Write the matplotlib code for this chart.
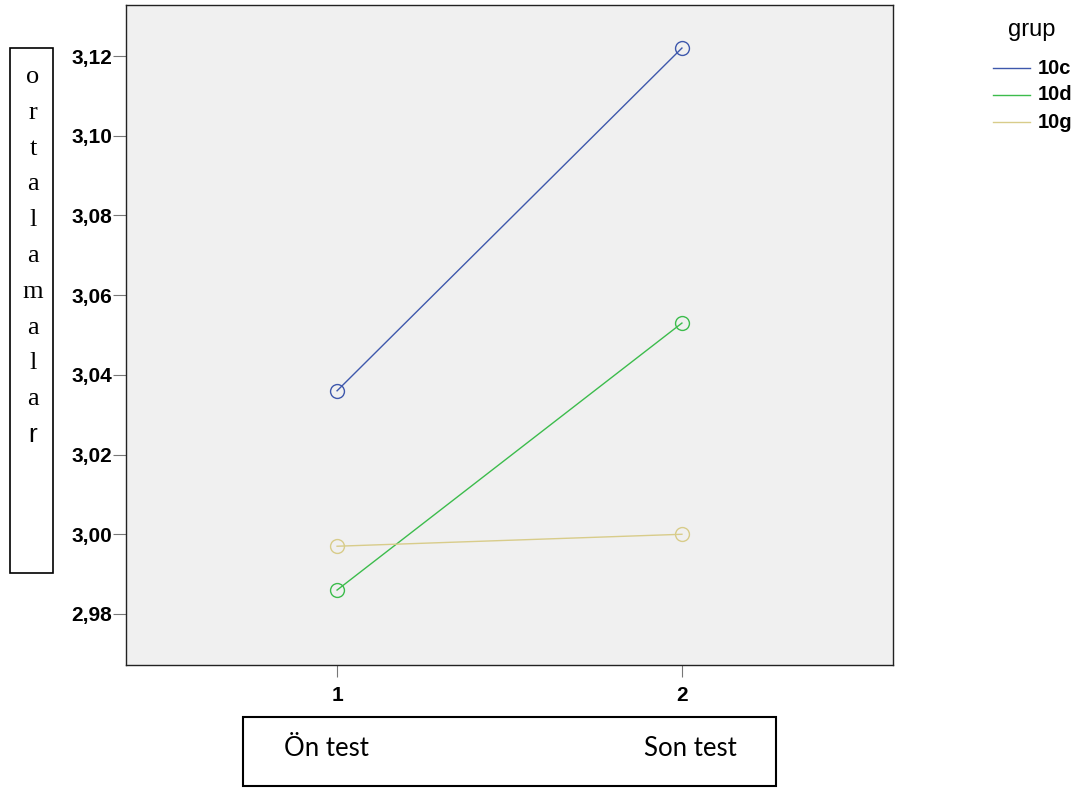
import matplotlib.pyplot as plt
from matplotlib.patches import Rectangle

# =========================
# DATA
# =========================
x_pos = [1, 2]
x_names = ["Ön test", "Son test"]
groups = ["10c", "10d", "10g"]
means_10c = [3.036, 3.122]
means_10d = [2.986, 3.053]
means_10g = [2.997, 3.000]
colors = ["#3e58ac", "#3cbc4c", "#d8cc8a"]
y_ticks = [2.98, 3.00, 3.02, 3.04, 3.06, 3.08, 3.10, 3.12]
y_title = "ortalamalar"

W, H = 1081, 789
fig = plt.figure(figsize=(W / 100, H / 100), dpi=100)
ax = fig.add_axes([126 / W, 1 - 665 / H, (893 - 126) / W, (665 - 5) / H])
ax.set_facecolor("#f0f0f0")

for vals, col, name in zip([means_10c, means_10d, means_10g], colors, groups):
    ax.plot(x_pos, vals, color=col, lw=1, marker="o", ms=10,
            mfc="none", mec=col, mew=1, label=name)

ax.set_xlim(0.388, 2.612)
ax.set_ylim(2.9672, 3.1328)
ax.set_xticks(x_pos)
ax.set_xticklabels([str(v) for v in x_pos])
ax.set_yticks(y_ticks)
ax.set_yticklabels([f"{v:.2f}".replace(".", ",") for v in y_ticks])
for lab in ax.get_xticklabels() + ax.get_yticklabels():
    lab.set_fontfamily("Liberation Sans")
    lab.set_fontweight("bold")
    lab.set_fontsize(15)
ax.tick_params(axis="y", direction="out", length=9.5, color="#777777", pad=0.5)
ax.tick_params(axis="x", direction="out", length=8.5, color="#777777", pad=6.5)
for sp in ax.spines.values():
    sp.set_color("#222222")
    sp.set_linewidth(1)

# y label box (stacked letters)
fig.patches.append(Rectangle((10 / W, 1 - 573 / H), 43 / W, 525 / H,
                             transform=fig.transFigure, fill=False,
                             ec="black", lw=1.2))
for i, ch in enumerate(y_title):
    fam = "Liberation Sans" if i == len(y_title) - 1 else "Liberation Serif"
    fig.text(33 / W, 1 - (77 + 35.8 * i) / H, ch, ha="center",
             va="center", family=fam, fontsize=19)

# x label box
fig.patches.append(Rectangle((243 / W, 1 - 786 / H), 533 / W, 69 / H,
                             transform=fig.transFigure, fill=False,
                             ec="black", lw=1.5))
fig.text(326 / W, 1 - 748 / H, x_names[0], ha="center", va="center",
         family="Lato", fontsize=18.5)
fig.text(690 / W, 1 - 748 / H, x_names[1], ha="center", va="center",
         family="Lato", fontsize=18.5)

# legend
fig.text(1032 / W, 1 - 30 / H, "grup", ha="center", va="center",
         family="Liberation Sans", fontsize=17)
for i, (name, col) in enumerate(zip(groups, colors)):
    yy = 1 - (68 + 27 * i) / H
    fig.add_artist(plt.Line2D([993 / W, 1030 / W], [yy, yy], color=col,
                              lw=1, transform=fig.transFigure))
    fig.text(1038 / W, yy, name, ha="left", va="center",
             family="Liberation Sans", fontweight="bold", fontsize=14.5)

plt.savefig("out.png", dpi=100)
